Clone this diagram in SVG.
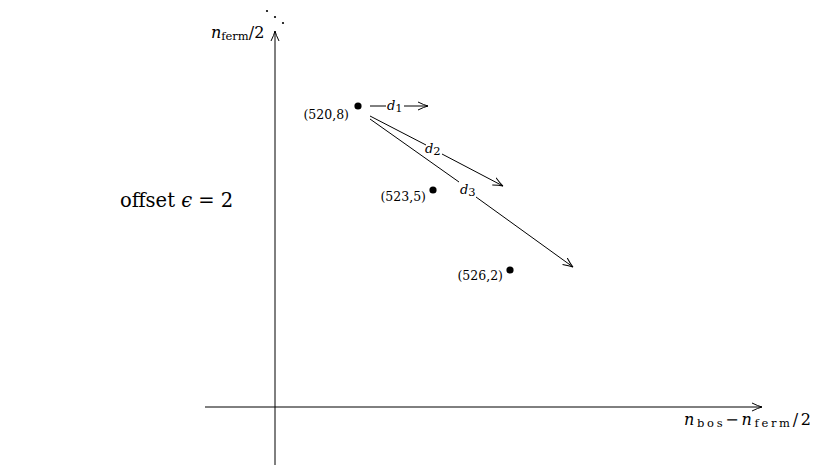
<svg xmlns="http://www.w3.org/2000/svg" width="814" height="465" viewBox="0 0 814 465">
<style>
.ln{stroke:#000;stroke-width:1;fill:none}
.t{font-family:"DejaVu Serif",serif;fill:#000}
.m{font-family:"DejaVu Serif",serif;font-style:italic;fill:#000}
.s{font-family:"DejaVu Serif",serif;font-size:11.5px;font-style:normal}
</style>
<defs>
<marker id="ah" viewBox="-10 -5 12 10" markerWidth="12" markerHeight="10" refX="0" refY="0" orient="auto" markerUnits="userSpaceOnUse">
<path d="M-10,-4 Q-4,-1 0,0 Q-4,1 -10,4" stroke="#000" stroke-width="1" fill="none"/>
</marker>
</defs>
<rect width="814" height="465" fill="#fff"/>
<g id="axes">
<line class="ln" x1="275" y1="465" x2="275" y2="31" marker-end="url(#ah)"/>
<line class="ln" x1="205" y1="407" x2="762" y2="407" marker-end="url(#ah)"/>
<circle cx="267" cy="11" r="1.1"/><circle cx="275" cy="17" r="1.1"/><circle cx="283" cy="23" r="1.1"/>
<text class="m" x="211" y="38" font-size="16">n<tspan class="s" dy="2">ferm</tspan><tspan font-style="normal" dy="-2">/2</tspan></text>
<text class="m" x="684" y="425" font-size="16" textLength="127" lengthAdjust="spacing">n<tspan class="s" dy="2">bos</tspan><tspan font-style="normal" dy="-2">−</tspan>n<tspan class="s" dy="2">ferm</tspan><tspan font-style="normal" dy="-2">/2</tspan></text>
</g>
<g id="title"><text class="t" x="120" y="207" font-size="19.5">offset <tspan font-style="italic">ϵ</tspan> = 2</text></g>
<g id="p1"><circle cx="358" cy="106" r="3.6"/><text class="t" x="349" y="119" font-size="12.5" text-anchor="end">(520,8)</text></g>
<g id="p2"><circle cx="433" cy="190" r="3.6"/><text class="t" x="426" y="201" font-size="12.5" text-anchor="end">(523,5)</text></g>
<g id="p3"><circle cx="510" cy="270" r="3.6"/><text class="t" x="503" y="280" font-size="12.5" text-anchor="end">(526,2)</text></g>
<g id="connectors">
<line class="ln" x1="370" y1="106" x2="386" y2="106"/>
<line class="ln" x1="404" y1="106" x2="428" y2="106" marker-end="url(#ah)"/>
<text class="m" x="387" y="110" font-size="13">d<tspan class="s" font-size="9" dy="2">1</tspan></text>
<line class="ln" x1="370" y1="116" x2="426" y2="145"/>
<line class="ln" x1="442" y1="154" x2="503" y2="186" marker-end="url(#ah)"/>
<text class="m" x="425" y="153" font-size="13">d<tspan class="s" font-size="9" dy="2">2</tspan></text>
<line class="ln" x1="370" y1="119" x2="459" y2="182"/>
<line class="ln" x1="476" y1="197" x2="573" y2="267" marker-end="url(#ah)"/>
<text class="m" x="460" y="194" font-size="13">d<tspan class="s" font-size="9" dy="2">3</tspan></text>
</g>
</svg>
